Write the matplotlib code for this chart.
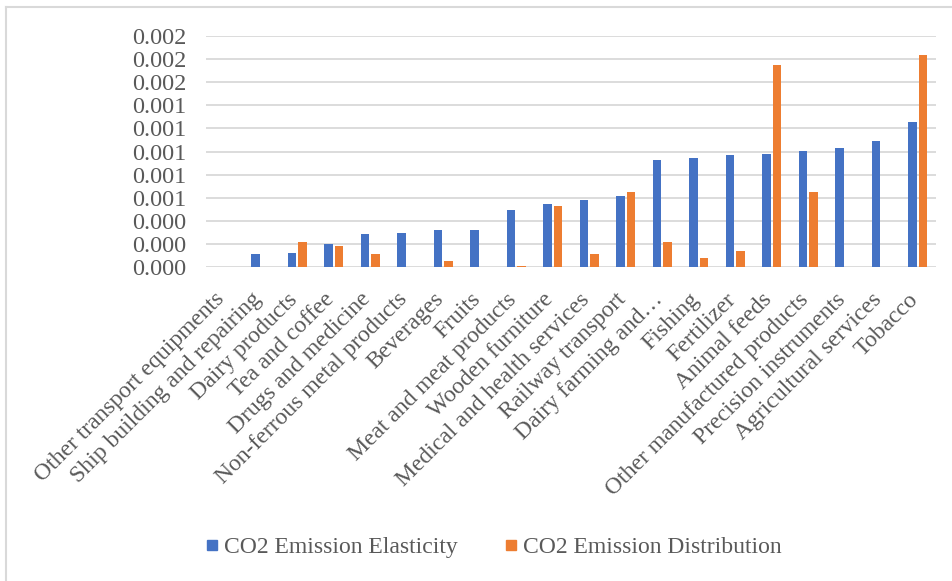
import matplotlib
matplotlib.use("Agg")
import matplotlib.pyplot as plt
from matplotlib.lines import Line2D
from matplotlib.ticker import FuncFormatter, MultipleLocator
from matplotlib.transforms import ScaledTranslation
import numpy as np

categories = [
    "Other transport equipments", "Ship building and repairing", "Dairy products",
    "Tea and coffee", "Drugs and medicine", "Non-ferrous metal products",
    "Beverages", "Fruits", "Meat and meat products", "Wooden furniture",
    "Medical and health services", "Railway transport", "Dairy farming and\u2026",
    "Fishing", "Fertilizer", "Animal feeds", "Other manufactured products",
    "Precision instruments", "Agricultural services", "Tobacco",
]
elasticity = [
    0.000002, 0.000110, 0.000121, 0.000196, 0.000289, 0.000294,
    0.000317, 0.000323, 0.000491, 0.000548, 0.000583, 0.000618,
    0.000929, 0.000941, 0.000970, 0.000981, 0.001004, 0.001033,
    0.001091, 0.001258,
]
distribution = [
    0.0, 0.0, 0.000219, 0.000185, 0.000110, 0.0,
    0.000052, 0.000003, 0.000012, 0.000531, 0.000115, 0.000646,
    0.000214, 0.000081, 0.000139, 0.001749, 0.000646, 0.0,
    0.000003, 0.001833,
]
series_names = ["CO2 Emission Elasticity", "CO2 Emission Distribution"]

BLUE = "#4472C4"
ORANGE = "#ED7D31"
TEXT = "#595959"
GRID = "#D9D9D9"

plt.rcParams["font.family"] = ["Liberation Serif", "DejaVu Serif"]

fig = plt.figure(figsize=(9.52, 5.81), dpi=100)
ax = fig.add_axes([206 / 952, 1 - 267 / 581, 730 / 952, 231 / 581])

x = np.arange(len(categories))
w = 0.235
off = 0.145
ax.bar(x - off, elasticity, width=w, color=BLUE, label=series_names[0], zorder=3)
ax.bar(x + off, distribution, width=w, color=ORANGE, label=series_names[1], zorder=3)

ax.set_xlim(-0.5, len(categories) - 0.5)
ax.set_ylim(0, 0.002)
ax.yaxis.set_major_locator(MultipleLocator(0.0002))
ax.yaxis.set_major_formatter(FuncFormatter(lambda v, p: f"{v:.3f}"))
ax.grid(axis="y", color=GRID, linewidth=1.3, zorder=0)
ax.set_axisbelow(True)
for s in ax.spines.values():
    s.set_visible(False)
ax.tick_params(axis="both", length=0, colors=TEXT)
ax.tick_params(axis="y", labelsize=17.5, pad=14)
ax.set_xticks(x)
ax.set_xticklabels(categories, rotation=45, ha="right", rotation_mode="anchor",
                   fontsize=17, color=TEXT)
ax.tick_params(axis="x", pad=10)
shift = ScaledTranslation(-10 / 100, -8 / 100, fig.dpi_scale_trans)
for lbl in ax.get_xticklabels():
    lbl.set_transform(lbl.get_transform() + shift)

handles = [
    Line2D([], [], marker="s", linestyle="none", markersize=7.5, color=BLUE),
    Line2D([], [], marker="s", linestyle="none", markersize=7.5, color=ORANGE),
]
fig.legend(handles, series_names, loc="center", bbox_to_anchor=(492 / 952, 1 - 547 / 581),
           ncol=2, frameon=False, fontsize=17, labelcolor=TEXT, handletextpad=0.1,
           columnspacing=1.85, handlelength=0.8)

# chart frame
fig.add_artist(Line2D([6 / 952, 1], [1 - 7 / 581, 1 - 7 / 581], color="#D9D9D9",
                      linewidth=1.5, transform=fig.transFigure))
fig.add_artist(Line2D([6 / 952, 6 / 952], [0, 1 - 7 / 581], color="#D9D9D9",
                      linewidth=1.5, transform=fig.transFigure))

fig.savefig("out.png", dpi=100)
